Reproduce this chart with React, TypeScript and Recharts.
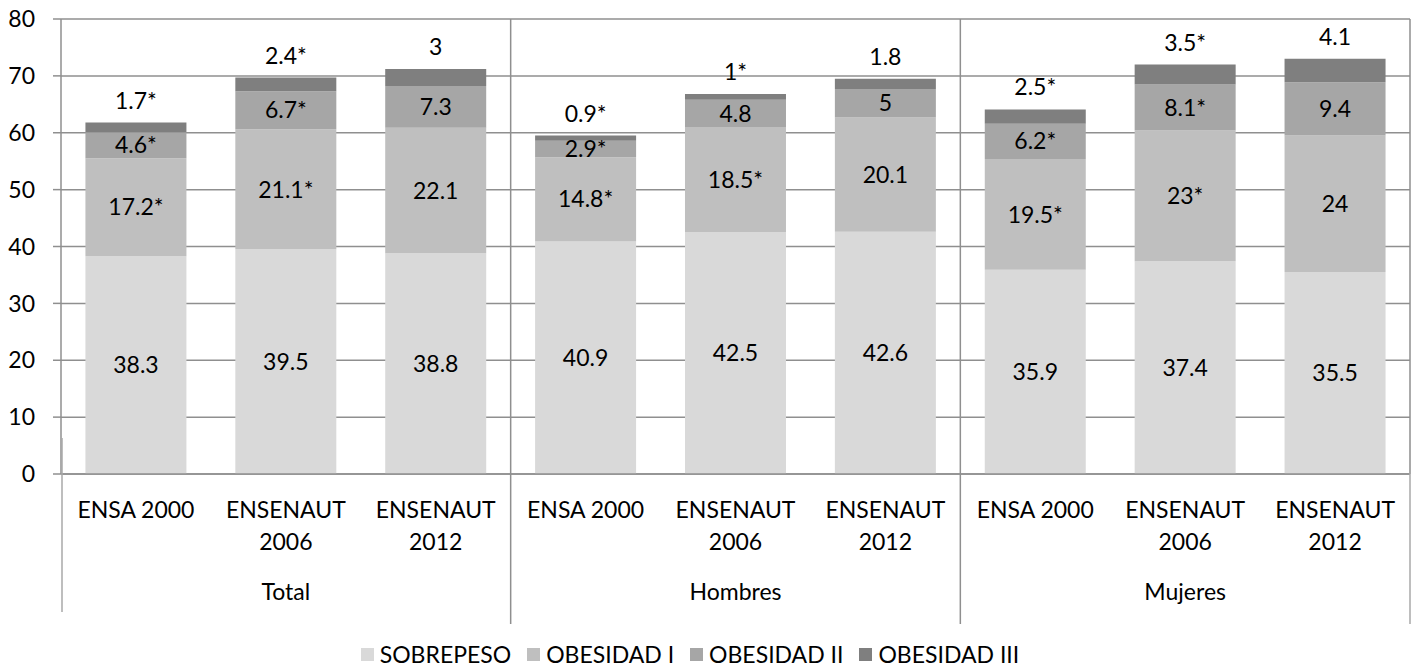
import { BarChart, Bar, XAxis, YAxis, CartesianGrid, Legend, LabelList } from "recharts";

// survey rounds, repeated inside each population group
const surveys = [["ENSA 2000"], ["ENSENAUT", "2006"], ["ENSENAUT", "2012"]];
const groups = ["Total", "Hombres", "Mujeres"];

const sobrepeso = [38.3, 39.5, 38.8, 40.9, 42.5, 42.6, 35.9, 37.4, 35.5];
const obesidad1 = [17.2, 21.1, 22.1, 14.8, 18.5, 20.1, 19.5, 23, 24];
const obesidad2 = [4.6, 6.7, 7.3, 2.9, 4.8, 5, 6.2, 8.1, 9.4];
const obesidad3 = [1.7, 2.4, 3, 0.9, 1, 1.8, 2.5, 3.5, 4.1];

// asterisk = significant difference
const sig1 = [true, true, false, true, true, false, true, true, false];
const sig2 = [true, true, false, true, false, false, true, true, false];
const sig3 = [true, true, false, true, true, false, true, true, false];

const yTicks = [0, 10, 20, 30, 40, 50, 60, 70, 80];

const SERIES = [
  { key: "sobrepeso", name: "SOBREPESO", color: "#d9d9d9" },
  { key: "ob1", name: "OBESIDAD I", color: "#bfbfbf" },
  { key: "ob2", name: "OBESIDAD II", color: "#a6a6a6" },
  { key: "ob3", name: "OBESIDAD III", color: "#7f7f7f" },
];

const fmt = (v: number, star: boolean) => `${v}${star ? "*" : ""}`;

const data = sobrepeso.map((v, i) => ({
  id: i,
  lines: surveys[i % 3],
  group: groups[Math.floor(i / 3)],
  sobrepeso: v,
  ob1: obesidad1[i],
  ob2: obesidad2[i],
  ob3: obesidad3[i],
  l0: fmt(v, false),
  l1: fmt(obesidad1[i], sig1[i]),
  l2: fmt(obesidad2[i], sig2[i]),
  l3: fmt(obesidad3[i], sig3[i]),
}));

const W = 1416;
const H = 666;
const M = { top: 19, right: 6, left: 0, bottom: 0 };
const Y_W = 61;
const X_H = 162;
const LEG_H = 30;
const PLOT_TOP = M.top;
const PLOT_BOTTOM = H - M.bottom - LEG_H - X_H;
const STEP = (W - M.right - Y_W) / data.length;
const FONT = "Lato, 'Open Sans', sans-serif";
const GRID = "#8f8f8f";

function CategoryTick(props: any) {
  const { x, payload } = props;
  const row = data[payload.index] ?? data.find((d) => d.id === payload.value);
  const i = row.id;
  const left = x - STEP / 2;
  return (
    <g>
      {row.lines.map((t: string, k: number) => (
        <text key={k} x={x} y={PLOT_BOTTOM + 44 + k * 32} textAnchor="middle" fontSize={23} fontFamily={FONT} fill="#000">
          {t}
        </text>
      ))}
      {i % 3 === 1 && (
        <text x={x} y={PLOT_BOTTOM + 126} textAnchor="middle" fontSize={23} fontFamily={FONT} fill="#000">
          {row.group}
        </text>
      )}
      {i % 3 === 0 && i > 0 && (
        <line x1={left} x2={left} y1={PLOT_TOP} y2={PLOT_BOTTOM + 150} stroke={GRID} strokeWidth={1.5} />
      )}
      {i === 0 && (
        <line x1={left + 1} x2={left + 1} y1={PLOT_BOTTOM - 36} y2={PLOT_BOTTOM + 138} stroke="#a9a9a9" strokeWidth={1.5} />
      )}
      {i === data.length - 1 && (
        <>
          <line x1={x + STEP / 2} x2={x + STEP / 2} y1={PLOT_TOP} y2={PLOT_BOTTOM} stroke={GRID} strokeWidth={1.5} />
          <line x1={x + STEP / 2} x2={x + STEP / 2} y1={PLOT_BOTTOM - 34} y2={PLOT_BOTTOM + 150} stroke="#a9a9a9" strokeWidth={1.5} />
        </>
      )}
    </g>
  );
}

function LegendBox() {
  return (
    <div style={{ display: "flex", justifyContent: "center", gap: 16, paddingRight: 30, paddingTop: 4, fontFamily: FONT, fontSize: 23, color: "#000" }}>
      {SERIES.map((s) => (
        <div key={s.key} style={{ display: "flex", alignItems: "center", gap: 6 }}>
          <span style={{ width: 13, height: 13, background: s.color, display: "inline-block" }} />
          <span>{s.name}</span>
        </div>
      ))}
    </div>
  );
}

export default function App() {
  return (
    <div style={{ position: "absolute", left: 0, top: 0, width: W, height: H, background: "#fff" }}>
      <BarChart width={W} height={H} data={data} margin={M} barCategoryGap="16.3%">
        <CartesianGrid vertical={false} stroke={GRID} strokeWidth={1.5} />
        <XAxis
          dataKey="id"
          height={X_H}
          interval={0}
          tickLine={false}
          axisLine={{ stroke: GRID, strokeWidth: 1.5 }}
          tick={<CategoryTick />}
        />
        <YAxis
          width={Y_W}
          domain={[0, 80]}
          ticks={yTicks}
          interval={0}
          tickSize={8}
          tickMargin={18}
          axisLine={{ stroke: GRID, strokeWidth: 1.5 }}
          tickLine={{ stroke: GRID, strokeWidth: 1.5 }}
          tick={{ fontSize: 23, fontFamily: FONT, fill: "#000" }}
        />
        {SERIES.map((s, k) => (
          <Bar key={s.key} dataKey={s.key} name={s.name} stackId="a" fill={s.color} isAnimationActive={false}>
            <LabelList
              dataKey={`l${k}`}
              position={k === 3 ? "top" : "center"}
              offset={14}
              fontSize={23}
              fontFamily={FONT}
              fill="#000"
            />
          </Bar>
        ))}
        <Legend verticalAlign="bottom" height={LEG_H} content={<LegendBox />} />
      </BarChart>
    </div>
  );
}
